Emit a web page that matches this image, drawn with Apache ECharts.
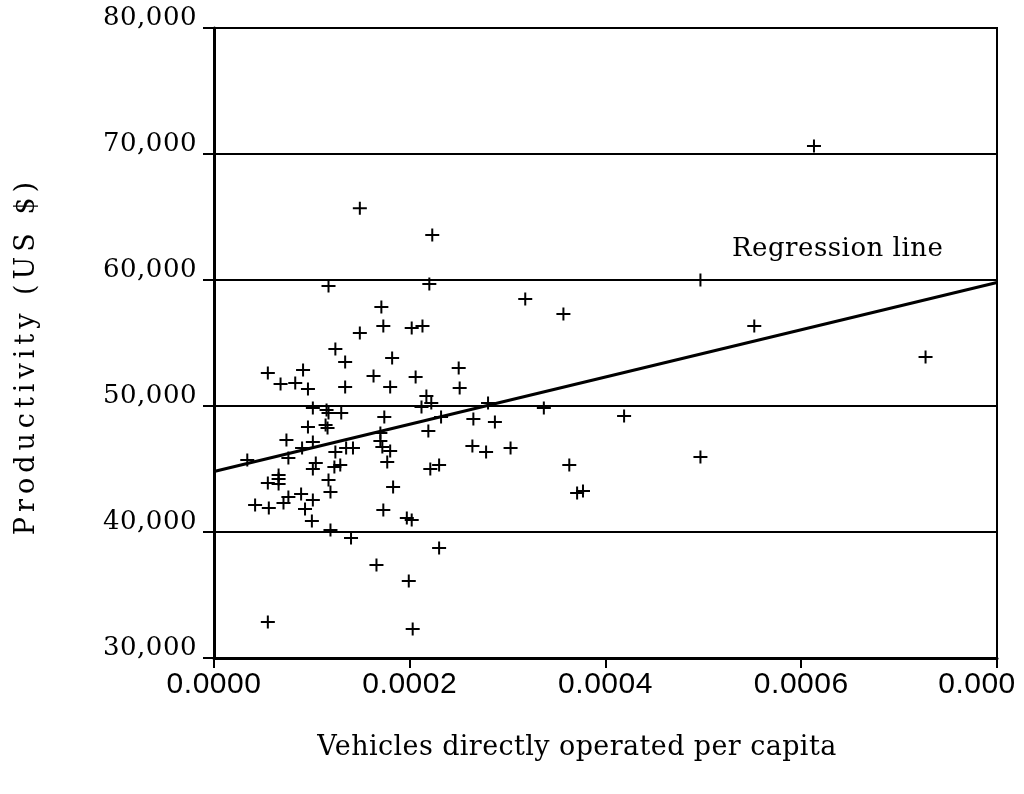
<!DOCTYPE html>
<html>
<head>
<meta charset="utf-8">
<script src="https://cdn.jsdelivr.net/npm/echarts@6/dist/echarts.min.js"></script>
<style>
html,body{margin:0;padding:0;background:#fff;overflow:hidden;}
#chart{width:1024px;height:794px;}
</style>
</head>
<body>
<div id="chart"></div>
<script>
// ---- data ----
const vehicles = [
  0.000149, 0.000223, 0.000613, 0.000117, 0.000220, 0.000497, 0.000171, 0.000173, 0.000149, 0.000202,
  0.000213, 0.000318, 0.000357, 0.000552, 0.000124, 0.000134, 0.000182, 0.000727, 0.000055, 0.000091,
  0.000068, 0.000083, 0.000096, 0.000134, 0.000163, 0.000180, 0.000206, 0.000250, 0.000251, 0.000217,
  0.000222, 0.000212, 0.000280, 0.000101, 0.000115, 0.000117, 0.000130, 0.000174, 0.000232, 0.000265,
  0.000287, 0.000337, 0.000419, 0.000096, 0.000114, 0.000116, 0.000170, 0.000219, 0.000074, 0.000101,
  0.000090, 0.000170, 0.000172, 0.000180, 0.000124, 0.000135, 0.000142, 0.000034, 0.000076, 0.000104,
  0.000101, 0.000123, 0.000129, 0.000177, 0.000264, 0.000278, 0.000303, 0.000221, 0.000230, 0.000363,
  0.000497, 0.000066, 0.000066, 0.000066, 0.000055, 0.000117, 0.000119, 0.000076, 0.000071, 0.000089,
  0.000101, 0.000042, 0.000056, 0.000093, 0.000100, 0.000119, 0.000140, 0.000183, 0.000173, 0.000197,
  0.000202, 0.000371, 0.000377, 0.000230, 0.000166, 0.000199, 0.000055, 0.000203
];
const productivity = [
  65700, 63570, 70630, 59520, 59680, 60000, 57860, 56350, 55790, 56190,
  56350, 58490, 57300, 56350, 54520, 53490, 53810, 53890, 52620, 52860,
  51750, 51830, 51350, 51510, 52380, 51510, 52300, 53020, 51430, 50790,
  50240, 49920, 50240, 49840, 49680, 49440, 49440, 49130, 49130, 48970,
  48730, 49840, 49210, 48330, 48490, 48250, 47860, 48020, 47300, 47140,
  46670, 47220, 46750, 46430, 46350, 46670, 46670, 45710, 45870, 45480,
  45000, 45160, 45320, 45560, 46830, 46350, 46670, 45000, 45320, 45320,
  45950, 44520, 44210, 43810, 43890, 44130, 43180, 42780, 42300, 43020,
  42540, 42140, 41900, 41830, 40870, 40160, 39520, 43570, 41750, 41110,
  40950, 43100, 43250, 38730, 37380, 36110, 32860, 32300
];
const regressionX = [0, 0.0008];
const regressionY = [44800, 59800];
const xTickLabels = ['0.0000', '0.0002', '0.0004', '0.0006', '0.000'];
const yTickLabels = ['30,000', '40,000', '50,000', '60,000', '70,000', '80,000'];
const xTitle = 'Vehicles directly operated per capita';
const yTitle = 'Productivity (US $)';
const regressionLabel = 'Regression line';

// letter spacing for the spaced-out titles (canvas letterSpacing)
const SPACING = {};
SPACING[yTitle] = '5px';
SPACING[regressionLabel] = '0.5px';
SPACING[xTitle] = '0.4px';
(function () {
  const proto = CanvasRenderingContext2D.prototype;
  if (!('letterSpacing' in proto)) return;
  const orig = proto.fillText;
  proto.fillText = function (text, x, y, maxW) {
    const sp = SPACING[text];
    if (!sp) {
      return maxW === undefined ? orig.call(this, text, x, y) : orig.call(this, text, x, y, maxW);
    }
    const prev = this.letterSpacing;
    this.letterSpacing = sp;
    if (maxW === undefined) orig.call(this, text, x, y); else orig.call(this, text, x, y, maxW);
    this.letterSpacing = prev;
  };
})();

const points = vehicles.map((v, i) => [v, productivity[i]]);
const regression = regressionX.map((v, i) => [v, regressionY[i]]);

const plusPath = 'path://M6,0 L8,0 L8,5.5 L14,5.5 L14,7.5 L8,7.5 L8,13 L6,13 L6,7.5 L0,7.5 L0,5.5 L6,5.5 Z';

const chart = echarts.init(document.getElementById('chart'), null, { renderer: 'canvas' });
chart.setOption({
  animation: false,
  backgroundColor: '#ffffff',
  grid: {
    left: 214, right: 27, top: 28, bottom: 136,
    containLabel: false, outerBoundsMode: 'none',
    show: true, borderColor: '#000', borderWidth: 2, backgroundColor: 'transparent'
  },
  xAxis: {
    type: 'value', min: 0, max: 0.0008, interval: 0.0002,
    axisLine: { show: true, onZero: false, lineStyle: { color: '#000', width: 3 } },
    axisTick: { show: true, length: 10, lineStyle: { color: '#000', width: 2 } },
    axisLabel: {
      margin: 12, color: '#000', fontFamily: 'Liberation Sans', fontSize: 30, lineHeight: 30,
      showMinLabel: true, showMaxLabel: true, hideOverlap: false,
      formatter: function (v) {
        const i = Math.round(v / 0.0002);
        return i === xTickLabels.length - 1 ? '{last|' + xTickLabels[i] + '}' : xTickLabels[i];
      },
      rich: {
        last: { fontFamily: 'Liberation Sans', fontSize: 30, lineHeight: 30, color: '#000', padding: [0, 40, 0, 0] }
      }
    },
    splitLine: { show: false }
  },
  yAxis: {
    type: 'value', min: 30000, max: 80000, interval: 10000,
    axisLine: { show: true, lineStyle: { color: '#000', width: 3 } },
    axisTick: { show: true, length: 11, lineStyle: { color: '#000', width: 2 } },
    axisLabel: {
      margin: 17, color: '#000', fontFamily: 'DejaVu Serif', fontSize: 26,
      verticalAlign: 'bottom', lineHeight: 20,
      showMinLabel: true, showMaxLabel: true, hideOverlap: false,
      formatter: function (v) { return yTickLabels[Math.round((v - 30000) / 10000)]; }
    },
    splitLine: { show: true, lineStyle: { color: '#000', width: 2 } }
  },
  series: [
    {
      type: 'scatter',
      data: points,
      symbol: plusPath,
      symbolSize: [14, 13],
      itemStyle: { color: '#000', opacity: 1 },
      silent: true,
      z: 3
    },
    {
      type: 'line',
      data: regression,
      showSymbol: false,
      symbol: 'none',
      lineStyle: { color: '#000', width: 3 },
      silent: true,
      z: 4
    }
  ],
  graphic: [
    {
      type: 'text', x: 732, y: 249,
      style: { text: regressionLabel, fill: '#000', font: '26px "DejaVu Serif"', align: 'left', verticalAlign: 'middle' }
    },
    {
      type: 'text', x: 577, y: 748,
      style: { text: xTitle, fill: '#000', font: '27px "DejaVu Serif"', align: 'center', verticalAlign: 'middle' }
    },
    {
      type: 'text', x: 27, y: 356, rotation: Math.PI / 2,
      style: { text: yTitle, fill: '#000', font: '27px "DejaVu Serif"', align: 'center', verticalAlign: 'middle' }
    }
  ]
});
</script>
</body>
</html>
